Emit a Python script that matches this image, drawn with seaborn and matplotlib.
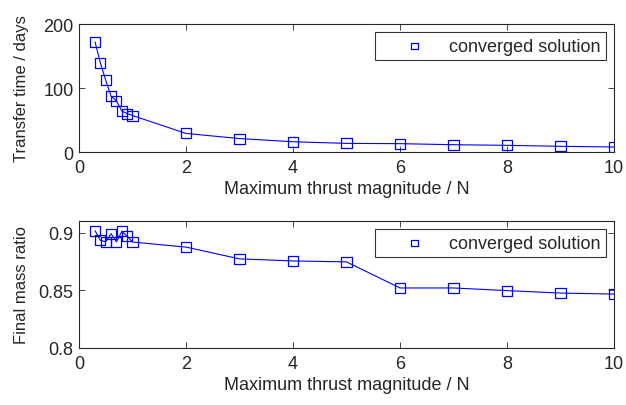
import numpy as np
import pandas as pd
import seaborn as sns
import matplotlib.pyplot as plt

# Données
thrust = [0.3, 0.4, 0.5, 0.6, 0.7, 0.8, 0.9, 1, 2, 3, 4, 5, 6, 7, 8, 9, 10]
transfer_time = [172, 139, 112, 87, 80, 64, 60, 57, 29, 21, 16, 13.5, 13, 11.4, 10.4, 8.9, 7.8]
mass_ratio = [0.9015, 0.8932, 0.892, 0.899, 0.892, 0.901, 0.8968, 0.8918, 0.8874,
              0.8772, 0.8754, 0.8746, 0.852, 0.852, 0.8497, 0.8476, 0.8467]

df = pd.DataFrame({"thrust": thrust, "time": transfer_time, "mass": mass_ratio})

sns.set_style("ticks")
plt.rcParams["font.family"] = ["Liberation Sans", "DejaVu Sans"]
plt.rcParams["font.size"] = 13
plt.rcParams["xtick.direction"] = "in"
plt.rcParams["ytick.direction"] = "in"

fig = plt.figure(figsize=(6.26, 4.06), dpi=100)
ax1 = fig.add_axes([79 / 626, 1 - 153 / 406, 535 / 626, 128 / 406])
ax2 = fig.add_axes([79 / 626, 1 - 349 / 406, 535 / 626, 127 / 406])

blue = "#0000ff"
for ax, col, ylab, ylim, yticks in [
    (ax1, "time", "Transfer time / days", (0, 200), [0, 100, 200]),
    (ax2, "mass", "Final mass ratio", (0.8, 0.91), [0.8, 0.85, 0.9]),
]:
    sns.lineplot(data=df, x="thrust", y=col, ax=ax, color=blue, linewidth=0.8,
                 legend=False)
    sns.scatterplot(data=df, x="thrust", y=col, ax=ax, marker="s", s=52,
                    facecolor="none", edgecolor=blue, linewidth=0.9,
                    label="converged solution")
    ax.set_xlim(0, 10)
    ax.set_ylim(*ylim)
    ax.set_xticks([0, 2, 4, 6, 8, 10])
    ax.set_yticks(yticks)
    ax.set_yticklabels([f"{t:g}" for t in yticks])
    ax.set_xlabel("Maximum thrust magnitude / N", labelpad=3)
    ax.set_ylabel(ylab, fontsize=12)
    ax.yaxis.set_label_coords(-0.094, 0.5)
    ax.tick_params(top=True, right=True, length=4, width=0.6, labelsize=13)
    ax.tick_params(axis="x", pad=5)
    ax.tick_params(axis="y", pad=4)
    for s in ax.spines.values():
        s.set_linewidth(0.8)
        s.set_visible(True)
    leg = ax.legend(loc="upper right", frameon=True, fancybox=False,
                    edgecolor="black", fontsize=13, handletextpad=0.0,
                    borderpad=0.3, handlelength=3.8, borderaxespad=0.45,
                    markerscale=0.65)
    leg.get_frame().set_linewidth(0.8)

fig.savefig("out.png", dpi=100)
